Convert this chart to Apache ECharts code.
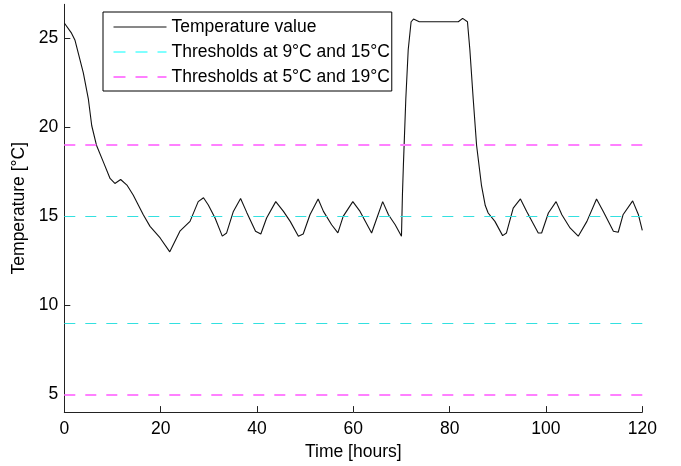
<!DOCTYPE html>
<html>
<head>
<meta charset="utf-8">
<script src="https://cdn.jsdelivr.net/npm/echarts@6/dist/echarts.min.js"></script>
<style>html,body{margin:0;padding:0;background:#fff;overflow:hidden}#c{width:681px;height:466px}</style>
</head>
<body>
<div id="c"></div>
<script>
// Time in hours
var timeHours = [0, 1.5, 2.2, 3.95, 5.0, 5.7, 6.7, 8.1, 9.5, 10.5, 11.7, 13.0, 14.3, 16.4, 17.8, 19.9, 21.9,
  24.0, 26.1, 27.8, 28.9, 29.9, 31.3, 32.8, 33.7, 35.1, 36.6, 37.9, 39.7, 40.8, 42.0, 43.9, 45.5, 46.9, 48.6,
  49.6, 51.0, 52.7, 53.8, 55.5, 56.8, 57.9, 59.9, 61.4, 63.8, 64.9, 66.1, 67.3, 68.7, 70.0, 70.2, 70.4, 70.9,
  71.4, 72.0, 72.5, 73.7, 81.8, 82.7, 83.7, 84.2, 84.9, 85.6, 86.6, 87.4, 88.0, 89.4, 91.0, 91.8, 93.2, 94.7,
  96.0, 98.4, 99.1, 100.5, 102.1, 103.3, 105.0, 106.7, 108.5, 110.5, 111.9, 114.0, 115.0, 116.0, 118.0, 119.2, 120.0];
// Temperature in °C
var temperature = [25.85, 25.28, 24.9, 23.05, 21.57, 20.08, 18.97, 18.05, 17.12, 16.84, 17.06, 16.75, 16.19, 15.08, 14.43, 13.78, 13.0,
  14.16, 14.71, 15.82, 16.04, 15.63, 14.9, 13.88, 14.06, 15.27, 16.0, 15.2, 14.16, 14.0, 14.9, 15.82, 15.27, 14.71, 13.88,
  14.0, 15.08, 15.97, 15.27, 14.52, 14.06, 14.99, 15.82, 15.27, 14.06, 14.9, 15.82, 15.08, 14.52, 13.88, 16.19, 17.86, 21.57,
  24.35, 25.92, 26.07, 25.92, 25.92, 26.11, 25.92, 24.35, 21.57, 18.97, 16.75, 15.6, 15.18, 14.71, 13.91, 14.06, 15.45, 15.97,
  15.27, 14.06, 14.06, 15.18, 15.82, 15.08, 14.34, 13.88, 14.71, 15.97, 15.27, 14.16, 14.1, 15.08, 15.86, 15.08, 14.21];
var thresholdsInner = [9, 15];
var thresholdsOuter = [5, 19];
var yTickValues = [5, 10, 15, 20, 25];
var seriesNames = ['Temperature value', 'Thresholds at 9\u00b0C and 15\u00b0C', 'Thresholds at 5\u00b0C and 19\u00b0C'];

var font = 'Liberation Sans, Arial, Helvetica, sans-serif';
var tempData = timeHours.map(function (t, i) { return [t, temperature[i]]; });
function ml(vals) { return vals.map(function (v) { return { yAxis: v }; }); }

var chart = echarts.init(document.getElementById('c'), null, { renderer: 'canvas' });
chart.setOption({
  animation: false,
  backgroundColor: '#fff',
  textStyle: { fontFamily: font },
  grid: { left: 64.3, right: 38.7, top: 4.3, bottom: 51.7, containLabel: false },
  legend: {
    show: true,
    orient: 'vertical', left: 103, top: 12,
    backgroundColor: '#fff', borderColor: '#000', borderWidth: 1,
    padding: [6, 2, 5, 10],
    itemWidth: 53, itemHeight: 17, itemGap: 7, itemTextGap: 6,
    textStyle: { fontFamily: font, fontSize: 17.5, color: '#000' },
    itemStyle: { opacity: 0 },
    lineStyle: { width: 1 },
    data: seriesNames
  },
  xAxis: {
    type: 'value', min: 0, max: 120, interval: 20,
    name: 'Time [hours]', nameLocation: 'middle', nameGap: 30,
    nameTextStyle: { fontFamily: font, fontSize: 17.5, color: '#000' },
    axisLine: { lineStyle: { color: '#222', width: 1 } },
    axisTick: { inside: true, length: 6, lineStyle: { color: '#222' } },
    axisLabel: { margin: 8, fontFamily: font, fontSize: 17.5, color: '#000' },
    splitLine: { show: false }
  },
  yAxis: {
    type: 'value', min: 4, max: 26.9,
    name: 'Temperature [\u00b0C]', nameLocation: 'middle', nameGap: 36,
    nameTextStyle: { fontFamily: font, fontSize: 17.5, color: '#000' },
    axisLine: { show: true, lineStyle: { color: '#222', width: 1 } },
    axisTick: { show: true, inside: true, length: 6, customValues: yTickValues, lineStyle: { color: '#222' } },
    axisLabel: { margin: 6, fontFamily: font, fontSize: 17.5, color: '#000', customValues: yTickValues },
    splitLine: { show: false }
  },
  series: [
    {
      name: seriesNames[0], type: 'line', data: tempData, symbol: 'none', showSymbol: false,
      lineStyle: { color: '#111', width: 1.1 }, itemStyle: { color: '#111' }, z: 3
    },
    {
      name: seriesNames[1], type: 'line', data: [], symbol: 'none',
      lineStyle: { color: '#00ffff', width: 1, type: [12, 10] }, itemStyle: { color: '#00ffff' },
      markLine: { silent: true, symbol: 'none', label: { show: false },
        lineStyle: { color: '#33e0e0', width: 1, type: [11, 10] }, data: ml(thresholdsInner) }
    },
    {
      name: seriesNames[2], type: 'line', data: [], symbol: 'none',
      lineStyle: { color: '#ff00ff', width: 1, type: [12, 10] }, itemStyle: { color: '#ff00ff' },
      markLine: { silent: true, symbol: 'none', label: { show: false },
        lineStyle: { color: '#ff80ff', width: 2, type: [11, 10] }, data: ml(thresholdsOuter) }
    }
  ]
});
</script>
</body>
</html>
